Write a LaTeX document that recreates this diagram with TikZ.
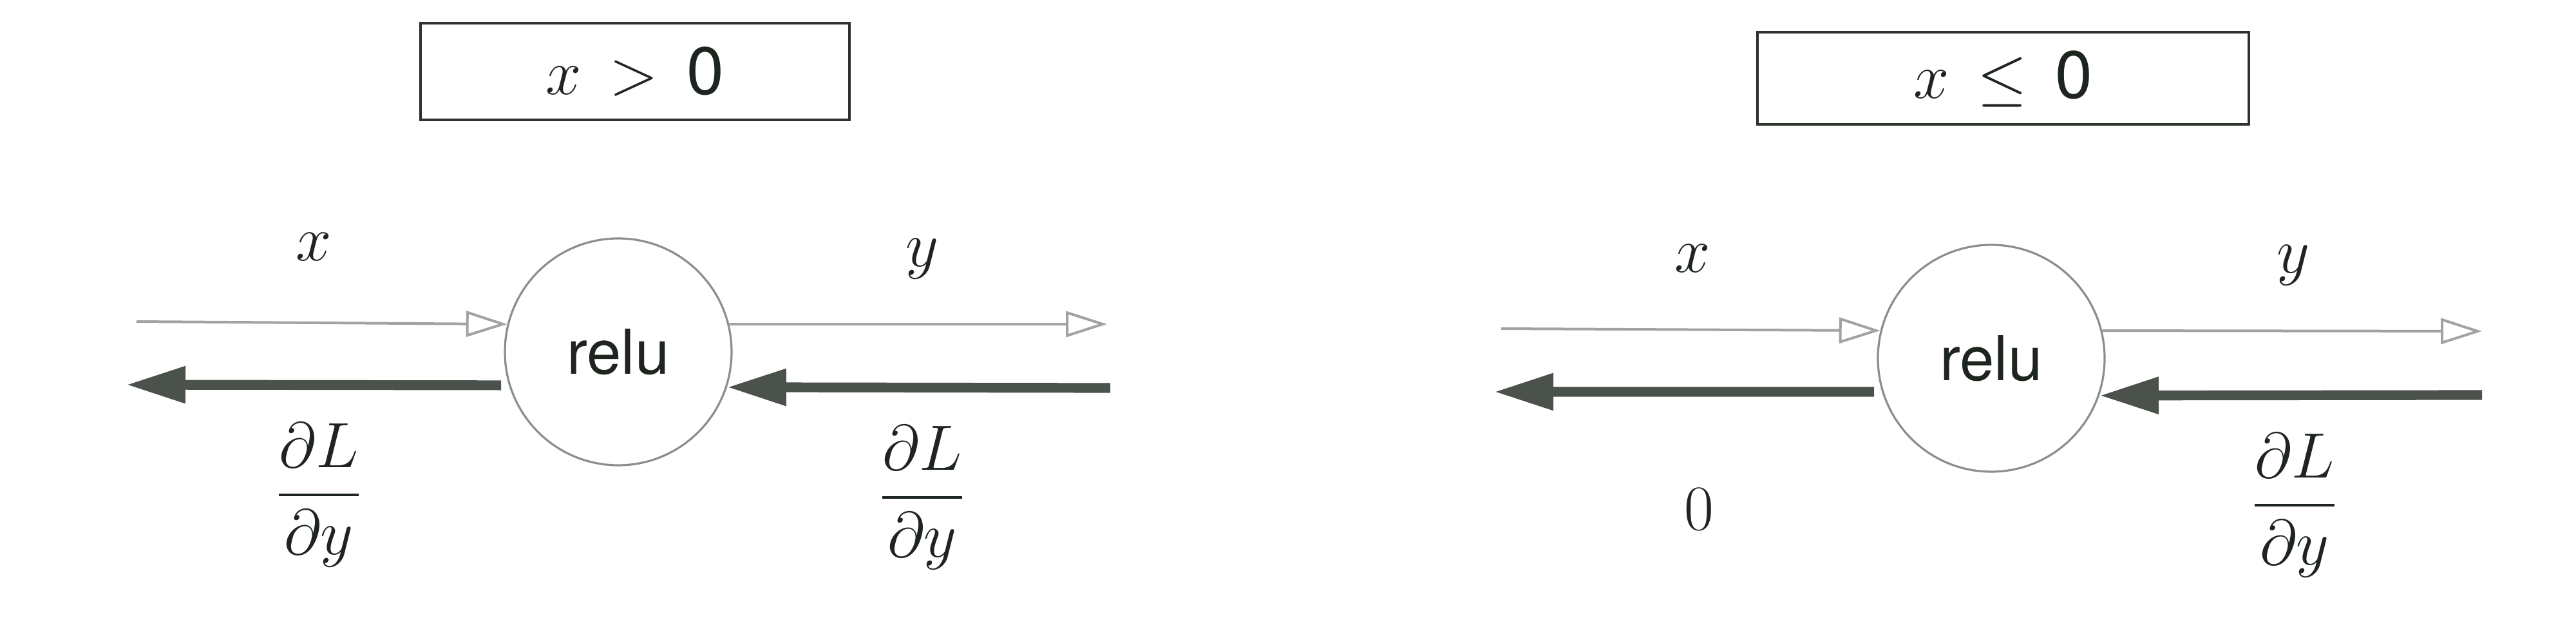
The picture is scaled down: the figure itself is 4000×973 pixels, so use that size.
\documentclass[tikz,border=0pt]{standalone}
\usepackage{amsmath}
\usepackage{fontspec}
\setsansfont{TeX Gyre Heros}
\usetikzlibrary{arrows.meta}
\definecolor{ink}{HTML}{1E241E}
\definecolor{boxline}{HTML}{2B332B}
\definecolor{thinc}{HTML}{A0A3A0}
\definecolor{thickc}{HTML}{4B514B}
\definecolor{circc}{HTML}{8A8F8A}
\begin{document}
\begin{tikzpicture}[x=0.25pt,y=-0.25pt,
  condbox/.style={draw=boxline,line width=1pt,text=ink,inner sep=0pt},
  relunode/.style={circle,draw=circc,line width=0.8pt,minimum size=88pt,inner sep=0pt,text=ink,font=\sffamily\fontsize{24}{28}\selectfont},
  lbl/.style={text=ink,inner sep=0pt,font=\fontsize{32}{38}\selectfont},
  fwd/.style={draw=thinc,line width=1pt,-{Triangle[open,length=16pt,width=10pt,line width=1pt]}},
  bwd/.style={draw=thickc,line width=3.8pt,-{Triangle[length=23pt,width=13.5pt]}}]
\useasboundingbox (0,0) rectangle (4000,973);
% ---- panel 1 ----
\node[condbox,minimum width=166.5pt,minimum height=37.5pt] (b1) at (986,111)
  {\fontsize{26}{30}\selectfont$x$\hspace{0.42em}$>$\hspace{0.42em}\textsf{0}};
\node[relunode] (c1) at (960,546) {relu};
\coordinate (a1s) at (212,499);
\coordinate (a2e) at (1719,503);
\coordinate (d1e) at (196,597);
\coordinate (d2s) at (1724,602);
\draw[fwd] (a1s) -- (c1.166);
\draw[fwd] (c1.14) -- (a2e);
\draw[bwd,shorten <=3pt] (c1.197) -- (d1e);
\draw[bwd] (d2s) -- (c1.-18);
\node[lbl] (x1) at (487,383) {$x$};
\node[lbl] (y1) at (1432,402) {$y$};
\node[lbl] (g1) at (495,768) {$\dfrac{\partial L}{\partial y}$};
\node[lbl] (g2) at (1432,772) {$\dfrac{\partial L}{\partial y}$};
% ---- panel 2 ----
\node[condbox,minimum width=190.75pt,minimum height=35.75pt] (b2) at (3110,122)
  {\fontsize{26}{30}\selectfont$x$\hspace{0.42em}$\leq$\hspace{0.42em}\textsf{0}};
\node[relunode] (c2) at (3092,556) {relu};
\coordinate (p1s) at (2331,510);
\coordinate (p2e) at (3854,514);
\coordinate (q1e) at (2320,608);
\coordinate (q2s) at (3854,613);
\draw[fwd] (p1s) -- (c2.166);
\draw[fwd] (c2.14) -- (p2e);
\draw[bwd,shorten <=3pt] (c2.197) -- (q1e);
\draw[bwd] (q2s) -- (c2.-19);
\node[lbl] (x2) at (2628,401) {$x$};
\node[lbl] (y2) at (3561,412) {$y$};
\node[lbl,font=\fontsize{35}{40}\selectfont] (z2) at (2638,790) {$0$};
\node[lbl] (g3) at (3563,784) {$\dfrac{\partial L}{\partial y}$};
\end{tikzpicture}
\end{document}
